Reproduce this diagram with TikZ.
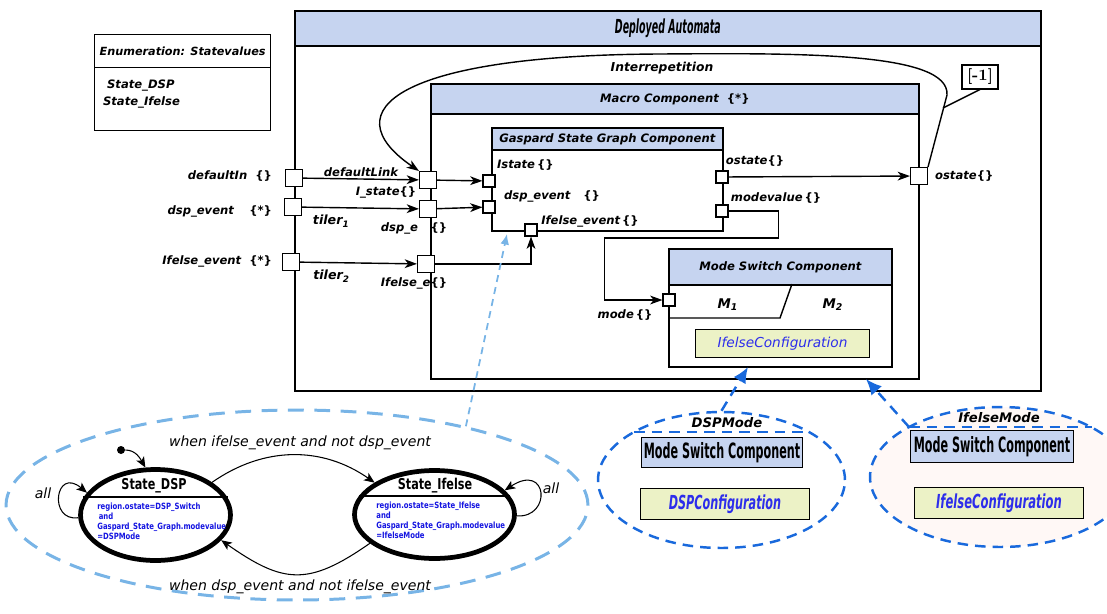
\documentclass[tikz,border=0pt]{standalone}
\usepackage{fontspec}
\setsansfont{DejaVu Sans}
\usepackage{graphicx}
\usetikzlibrary{arrows.meta,shapes.geometric}

\definecolor{hdrblue}{RGB}{198,212,240}
\definecolor{cfgfill}{RGB}{236,242,198}
\definecolor{cfgtext}{RGB}{45,45,235}
\definecolor{acttext}{RGB}{20,20,225}
\definecolor{modeblue}{RGB}{25,105,220}
\definecolor{lightdash}{RGB}{120,180,230}
\definecolor{pinkfill}{RGB}{255,248,246}

\newcommand{\squeeze}[2][0.62]{\scalebox{#1}[1]{#2}}
\newcommand{\noval}{\textup{\textbf{\{\}}}}
\newcommand{\manyval}{\textup{\textbf{\{*\}}}}

\begin{document}
\begin{tikzpicture}[
  x=0.02cm, y=-0.02cm,
  box/.style={draw, line width=1pt, inner sep=0pt, anchor=north west},
  hdr/.style={
    box,
    fill=hdrblue,
    font=\sffamily\bfseries\itshape\fontsize{6.6}{8}\selectfont
  },
  port/.style={draw, fill=white, line width=.6pt, minimum size=0.34cm, inner sep=0pt},
  pin/.style={port, minimum size=0.24cm},
  lbl/.style={font=\sffamily\bfseries\itshape\fontsize{6.6}{8}\selectfont, inner sep=1pt},
  link/.style={line width=.8pt, -{Stealth[length=7pt,width=5pt,inset=2pt]}},
  cfg/.style={draw, line width=.6pt, fill=cfgfill, text=cfgtext, inner sep=0pt, anchor=north west},
  state/.style={ellipse, draw, line width=2.7pt, inner sep=0pt, fill=white},
  trans/.style={line width=.6pt, -{Stealth[length=6pt,width=5pt,inset=1.5pt]}},
  guard/.style={font=\sffamily\itshape\fontsize{8}{9.6}\selectfont},
  act/.style={
    font=\sffamily\bfseries\fontsize{4.9}{5.7}\selectfont,
    text=acttext,
    inner sep=0pt,
    anchor=north west
  },
  modedash/.style={draw=modeblue, line width=1.4pt, dash pattern=on 6pt off 4pt},
  modelink/.style={modedash, -{Latex[length=9pt,width=8pt]}}
]
  \useasboundingbox (0,0) rectangle (1107,613);

  % Enumeration of the state values
  \node[box, line width=.7pt, minimum width=3.52cm, minimum height=1.92cm] (enum) at (94,34) {};
  \node[box, line width=.7pt, minimum width=3.52cm, minimum height=0.66cm,
    font=\sffamily\bfseries\itshape\fontsize{6.4}{8}\selectfont] (enumtitle) at (94,34)
    {Enumeration: Statevalues};
  \node[lbl, anchor=west] (enumdsp) at (105,86) {State\_DSP};
  \node[lbl, anchor=west] (enumife) at (101,102) {State\_Ifelse};

  % Component frames
  \node[box, minimum width=14.92cm, minimum height=7.6cm] (auto) at (294,10) {};
  \node[hdr, minimum width=14.92cm, minimum height=0.7cm,
    font=\sffamily\bfseries\itshape\fontsize{11}{13}\selectfont] (autotitle) at (294,10)
    {\squeeze[0.49]{Deployed Automata}};
  \node[box, minimum width=9.76cm, minimum height=5.9cm] (macro) at (430,83) {};
  \node[hdr, minimum width=9.76cm, minimum height=0.6cm] (macrotitle) at (430,83)
    {Macro Component\ \ \manyval};
  \node[box, minimum width=4.62cm, minimum height=2.06cm] (gsg) at (491,127) {};
  \node[hdr, minimum width=4.62cm, minimum height=0.44cm] (gsgtitle) at (491,127)
    {Gaspard State Graph Component};
  \node[box, minimum width=4.46cm, minimum height=2.36cm] (msc) at (668,248) {};
  \node[hdr, minimum width=4.46cm, minimum height=0.72cm] (msctitle) at (668,248)
    {Mode Switch Component};
  \draw[line width=.8pt] (668,318) -- (780,318) -- (792,284);
  \node[lbl, font=\sffamily\bfseries\itshape\fontsize{7.6}{9}\selectfont] (m1) at (728,305) {M\textsubscript{1}};
  \node[lbl, font=\sffamily\bfseries\itshape\fontsize{7.6}{9}\selectfont] (m2) at (833,305) {M\textsubscript{2}};
  \node[cfg, minimum width=3.48cm, minimum height=0.56cm,
    font=\sffamily\itshape\fontsize{7.8}{9}\selectfont] (msccfg) at (695,329)
    {IfelseConfiguration};

  % Ports
  \node[port] (din) at (294,178) {};
  \node[port] (dev) at (293,207) {};
  \node[port] (iev) at (291,262) {};
  \node[port] (mdef) at (428,180) {};
  \node[port] (mde) at (428,209) {};
  \node[port] (mie) at (426,264) {};
  \node[port] (mos) at (919,176) {};
  \node[pin] (gis) at (489,181) {};
  \node[pin] (gde) at (489,207) {};
  \node[pin] (gie) at (531,230) {};
  \node[pin] (gos) at (722,177) {};
  \node[pin] (gmv) at (722,211) {};
  \node[pin] (mmode) at (669,300) {};

  % Port labels
  \node[lbl, anchor=east] (dinlbl) at (274,176) {defaultIn\ \ \noval};
  \node[lbl, anchor=east] (devlbl) at (274,211) {dsp\_event\hspace{0.3cm}\manyval};
  \node[lbl, anchor=east] (ievlbl) at (274,261) {Ifelse\_event\ \ \manyval};
  \node[lbl] (mdeflbl) at (386,192) {I\_state\noval};
  \node[lbl] (mdelbl) at (414,228) {dsp\_e\hspace{0.25cm}\noval};
  \node[lbl] (mielbl) at (414,283) {Ifelse\_e\noval};
  \node[lbl, anchor=west] (gislbl) at (495,165) {Istate\,\noval};
  \node[lbl] (gdelbl) at (552,196) {dsp\_event\hspace{0.25cm}\noval};
  \node[lbl] (gielbl) at (590,221) {Ifelse\_event\,\noval};
  \node[lbl] (goslbl) at (755,161) {ostate\noval};
  \node[lbl] (gmvlbl) at (776,198) {modevalue\,\noval};
  \node[lbl, anchor=west] (moslbl) at (933,176) {ostate\noval};
  \node[lbl] (mmodelbl) at (625,315) {mode\,\noval};

  % Links
  \draw[link] (din) -- node[lbl, above] (deflink) {defaultLink} (mdef);
  \draw[link] (dev) -- node[lbl, below=3pt, pos=.25, font=\sffamily\bfseries\itshape\fontsize{7.2}{8.6}\selectfont]
    (tiler1) {tiler\textsubscript{1}} (mde);
  \draw[link] (iev) -- node[lbl, below=3pt, pos=.27, font=\sffamily\bfseries\itshape\fontsize{7.2}{8.6}\selectfont]
    (tiler2) {tiler\textsubscript{2}} (mie);
  \draw[link] (mdef) -- (gis);
  \draw[link] (mde) -- (gde);
  \draw[link] (mie) -| (gie);
  \draw[link] (gos) -- (mos);
  \draw[link] (gmv.east) -- ++(50,0) -- ++(0,27) -- ++(-174,0) |- (mmode);

  % Interrepetition
  \draw[link] (mos.north east) -- (947,95)
    .. controls (950,52) and (800,53) .. (660,54)
    .. controls (400,55) and (330,110) .. (mdef.north west);
  \node[lbl, font=\sffamily\bfseries\itshape\fontsize{7}{8.6}\selectfont] (rep) at (662,68) {Interrepetition};
  \node[draw, line width=.6pt, minimum width=0.72cm, minimum height=0.48cm, inner sep=0pt,
    font=\rmfamily\bfseries\fontsize{9}{10}\selectfont] (iter) at (980,77) {[-1]};
  \coordinate (iterpt) at (943,108);
  \draw[line width=.8pt] (iter.south) -- (iterpt);

  % State graph
  \node[ellipse, draw=lightdash, line width=1.7pt, dash pattern=on 9pt off 6pt,
    minimum width=11.64cm, minimum height=3.8cm, inner sep=0pt] (graph) at (297,505) {};
  \coordinate (gsgtip) at (507,234);
  \draw[lightdash, line width=1pt, dash pattern=on 4pt off 3pt, -{Latex[length=6pt,width=5pt]}]
    (graph.25) -- (gsgtip);

  \node[state, minimum width=3.0cm, minimum height=1.82cm] (sdsp) at (155.5,515) {};
  \node[state, minimum width=3.2cm, minimum height=1.76cm] (sife) at (434.5,514.5) {};
  \draw[line width=1.5pt] (83,497) -- (228,497);
  \draw[line width=1.5pt] (359,496) -- (510,496);
  \node[font=\sffamily\bfseries\fontsize{8.5}{10}\selectfont] (sdsptitle) at (154,486)
    {\squeeze[0.75]{State\_DSP}};
  \node[font=\sffamily\bfseries\fontsize{8.5}{10}\selectfont] (sifetitle) at (435,486)
    {\squeeze[0.75]{State\_Ifelse}};
  \node[act] (sdspact) at (97,502) {\squeeze[0.8]{\begin{tabular}{@{}l@{}}
    region.ostate=DSP\_Switch\\ \hspace{1pt}and\\ Gaspard\_State\_Graph.modevalue\\ =DSPMode
    \end{tabular}}};
  \node[act] (sifeact) at (376,501) {\squeeze[0.8]{\begin{tabular}{@{}l@{}}
    region.ostate=State\_Ifelse\\ and\\ Gaspard\_State\_Graph.modevalue\\ =IfelseMode
    \end{tabular}}};

  \node[circle, fill, inner sep=0pt, minimum size=0.16cm] (init) at (121,450) {};
  \draw[trans] (init) to[out=0, in=120] (sdsp.102);
  \draw[trans] (sdsp.30) to[out=35, in=145] (sife.152);
  \draw[trans] (sife.204) to[out=215, in=-35, looseness=1.3] (sdsp.-21);
  \draw[trans] (sdsp.182) .. controls (48,522) and (55,466) .. (sdsp.162);
  \draw[trans] (sife.-1) .. controls (552,518) and (548,462) .. (sife.19);
  \node[guard] (guard1) at (300,443) {when ifelse\_event and not dsp\_event};
  \node[guard] (guard2) at (300,587) {when dsp\_event and not ifelse\_event};
  \node[guard] (all1) at (43,493) {all};
  \node[guard] (all2) at (551,488) {all};

  % Modes
  \node[ellipse, modedash, minimum width=4.94cm, minimum height=2.72cm, inner sep=0pt]
    (dspmode) at (721.5,480) {};
  \draw[modedash] (634,432) -- (809,432);
  \node[lbl, font=\sffamily\bfseries\itshape\fontsize{7.5}{9}\selectfont] (dspmodelbl) at (727,423) {DSPMode};
  \node[box, line width=.6pt, fill=hdrblue, minimum width=3.22cm, minimum height=0.6cm,
    font=\sffamily\bfseries\fontsize{12}{14}\selectfont] (dspmsc) at (641,437)
    {\squeeze[0.53]{Mode Switch Component}};
  \node[cfg, minimum width=3.38cm, minimum height=0.62cm,
    font=\sffamily\bfseries\itshape\fontsize{11}{13}\selectfont] (dspcfg) at (640,488)
    {\squeeze[0.58]{DSPConfiguration}};
  \coordinate (dsptip) at (748,367);
  \draw[modelink] (dspmode.north) -- (dsptip);

  \node[ellipse, modedash, fill=pinkfill, minimum width=5.2cm, minimum height=2.8cm, inner sep=0pt]
    (ifmode) at (1000,477) {};
  \coordinate (ifkink) at (909,427);
  \draw[modedash] (ifkink) -- (1092,427);
  \node[lbl, font=\sffamily\bfseries\itshape\fontsize{7.5}{9}\selectfont] (ifmodelbl) at (999,418) {IfelseMode};
  \node[box, line width=.6pt, fill=hdrblue, minimum width=3.26cm, minimum height=0.64cm,
    font=\sffamily\bfseries\fontsize{12}{14}\selectfont] (ifmsc) at (910,430)
    {\squeeze[0.53]{Mode Switch Component}};
  \node[cfg, minimum width=3.38cm, minimum height=0.62cm,
    font=\sffamily\bfseries\itshape\fontsize{11}{13}\selectfont] (ifcfg) at (914,487)
    {\squeeze[0.6]{IfelseConfiguration}};
  \coordinate (iftip) at (866,379);
  \draw[modelink] (ifkink) -- (iftip);
\end{tikzpicture}
\end{document}
